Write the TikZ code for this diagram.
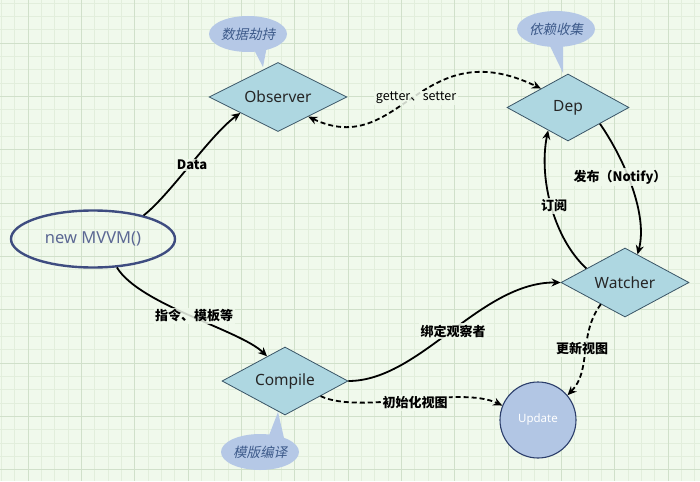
\documentclass[tikz,border=0pt]{standalone}
\usepackage{fontspec}
\setmainfont{Noto Sans}
\newfontfamily\cjk{Noto Sans CJK SC}
\newfontfamily\cjkit[FakeSlant=0.22]{Noto Sans CJK SC}
\usetikzlibrary{shapes.geometric,arrows.meta,calc}
\definecolor{bg}{HTML}{F0F9EC}
\definecolor{gminor}{HTML}{E2EEDC}
\definecolor{gmajor}{HTML}{D0E0CA}
\definecolor{dfill}{HTML}{AED7E1}
\definecolor{dline}{HTML}{3A5566}
\definecolor{cfill}{HTML}{B5C8E6}
\definecolor{ctext}{HTML}{3D5A8A}
\definecolor{ufill}{HTML}{B2C6E4}
\definecolor{uline}{HTML}{2C3E6B}
\definecolor{eline}{HTML}{3E4C80}
\tikzset{
  dia/.style={diamond, aspect=2, inner sep=0pt, draw=dline, line width=0.8pt, fill=dfill,
    font=\fontsize{15.5}{18}\selectfont, text=black!85},
  bubble/.style={ellipse, fill=cfill, inner sep=0pt, minimum width=78pt, minimum height=36pt,
    font=\cjkit\fontsize{13.5}{16}\selectfont, text=ctext},
  tail/.style={fill=cfill},
  conn/.style={line width=1.8pt, -{Stealth[length=9pt,width=8pt]}},
  dconn/.style={conn, dash pattern=on 5pt off 3pt},
  lbl/.style={fill=bg, fill opacity=0.85, text opacity=1, inner sep=1.5pt,
    font=\cjk\bfseries\fontsize{13}{15}\selectfont},
}
\begin{document}
\begin{tikzpicture}[x=1pt,y=-1pt]
\useasboundingbox (0,0) rectangle (700,481);
\fill[bg] (0,0) rectangle (700,481);
\foreach \i in {0,...,52} {
  \draw[gminor, line width=0.6pt] ({1.333+13.333*\i},0) -- ({1.333+13.333*\i},481);
}
\foreach \i in {0,...,36} {
  \draw[gminor, line width=0.6pt] (0,{3+13.333*\i}) -- (700,{3+13.333*\i});
}
\foreach \i in {0,...,13} {
  \draw[gmajor, line width=0.8pt] ({28+53.333*\i},0) -- ({28+53.333*\i},481);
}
\foreach \i in {0,...,9} {
  \draw[gmajor, line width=0.8pt] (0,{-10.333+53.333*\i}) -- (700,{-10.333+53.333*\i});
}

% callouts
\fill[tail] (252,46) -- (263,67) -- (267,46) -- cycle;
\node[bubble] (b1) at (248,34) {数据劫持};
\fill[tail] (549,44) -- (563,73) -- (563,44) -- cycle;
\node[bubble] (b2) at (556,29) {依赖收集};
\fill[tail] (268,438) -- (278,412) -- (284,438) -- cycle;
\node[bubble] (b3) at (260,452) {模版编译};

% main nodes
\node[ellipse, draw=eline, line width=2.4pt, minimum width=164pt, minimum height=57pt,
  inner sep=0pt, text=eline!85, font=\fontsize{16.5}{19}\selectfont] (mvvm) at (93,239) {new MVVM()};
\node[dia, minimum width=138pt, minimum height=69pt] (obs) at (278,97) {Observer};
\node[dia, minimum width=122pt, minimum height=67pt] (dep) at (568,107.5) {Dep};
\node[dia, minimum width=128pt, minimum height=69pt] (wat) at (625,282.5) {Watcher};
\node[dia, minimum width=126pt, minimum height=68pt] (cmp) at (285,381) {Compile};
\node[circle, draw=uline, line width=1.1pt, fill=ufill, minimum size=76pt, inner sep=0pt,
  text=white, font=\fontsize{11.5}{14}\selectfont] (upd) at (538,420) {Update};

% connectors
\draw[conn] (mvvm.25) .. controls (170,195) and (210,135) .. (obs.203);
\draw[dconn, {Stealth[length=9pt,width=8pt]}-{Stealth[length=9pt,width=8pt]}]
  (obs.327) .. controls (400,160) and (420,30) .. (dep.145);
\draw[conn] (dep.333) .. controls (625,160) and (648,215) .. (wat.66);
\draw[conn] (wat.160) .. controls (555,240) and (538,180) .. (dep.229);
\draw[conn] (mvvm.-50) .. controls (140,305) and (240,330) .. (cmp.126.5);
\draw[conn] (cmp.east) .. controls (420,381) and (480,282) .. (wat.west);
\draw[dconn] (cmp.337) .. controls (360,415) and (460,385) .. (upd.158);
\draw[dconn] (wat.222) .. controls (578,335) and (592,370) .. (upd.40);

% labels
\node[lbl] (lData) at (192,165) {Data};
\node[lbl, font=\cjk\fontsize{12.5}{15}\selectfont] (lgs) at (416,98) {getter、setter};
\node[lbl] (lnot) at (620,177) {发布（Notify）};
\node[lbl] (lsub) at (554,206) {订阅};
\node[lbl] (lcmd) at (194,316) {指令、模板等};
\node[lbl] (lbind) at (453,331) {绑定观察者};
\node[lbl] (linit) at (415,403) {初始化视图};
\node[lbl] (lupd) at (582,349) {更新视图};
\end{tikzpicture}
\end{document}
